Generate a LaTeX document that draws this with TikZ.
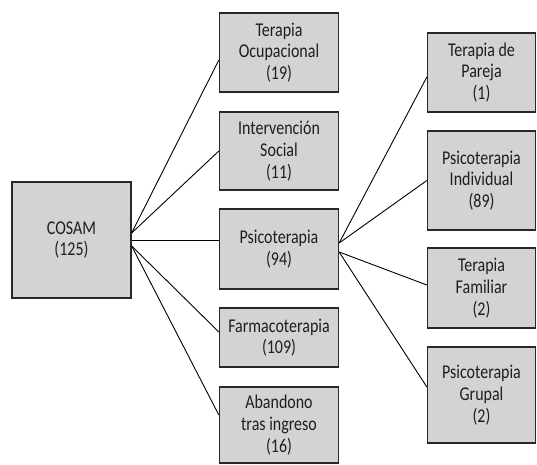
\documentclass[tikz,border=0pt]{standalone}
\usepackage{fontspec}
\setmainfont[FakeStretch=0.82]{Carlito}
\definecolor{boxfill}{RGB}{211,211,213}
\definecolor{boxline}{RGB}{40,40,40}
\definecolor{txt}{RGB}{30,30,30}
\begin{document}
\begin{tikzpicture}[x=1pt,y=-1pt,
  box/.style={draw=boxline,fill=boxfill,line width=1.3pt,inner sep=0pt,align=center,
    text=txt,font=\fontsize{19.5}{21.7}\selectfont,minimum width=#1},
  box/.default=119pt,
  link/.style={draw=black,line width=0.9pt}]
\useasboundingbox (0,0) rectangle (537,464);
\node[box=119pt,minimum height=116pt] (cosam) at (71.5,240) {COSAM\\(125)};
\node[box,minimum height=79pt] (to) at (279,52.5) {Terapia\\Ocupacional\\(19)};
\node[box,minimum height=78pt] (is) at (279,151) {Intervención\\Social\\(11)};
\node[box,minimum height=80pt] (ps) at (279,249) {Psicoterapia\\(94)};
\node[box,minimum height=59pt] (fa) at (279,337.5) {Farmacoterapia\\(109)};
\node[box,minimum height=76pt] (ab) at (279,425) {Abandono\\tras ingreso\\(16)};
\node[box=108pt,minimum height=79pt] (tp) at (481.5,72.5) {Terapia de\\Pareja\\(1)};
\node[box=108pt,minimum height=99pt] (pi) at (481.5,180.5) {Psicoterapia\\Individual\\(89)};
\node[box=108pt,minimum height=80pt] (tf) at (481.5,288) {Terapia\\Familiar\\(2)};
\node[box=108pt,minimum height=96pt] (pg) at (481.5,395) {Psicoterapia\\Grupal\\(2)};
\draw[link] ([yshift=7pt]cosam.east) -- ([yshift=-7.5pt]to.west);
\draw[link] ([yshift=7pt]cosam.east) -- (is.west);
\draw[link] (cosam.east) -- ([yshift=9pt]ps.west);
\draw[link] ([yshift=-6pt]cosam.east) -- ([yshift=5.5pt]fa.west);
\draw[link] ([yshift=-6pt]cosam.east) -- ([yshift=10pt]ab.west);
\draw[link] ([yshift=6pt]ps.east) -- ([yshift=-4.5pt]tp.west);
\draw[link] ([yshift=6pt]ps.east) -- (pi.west);
\draw[link] ([yshift=-3pt]ps.east) -- ([yshift=3pt]tf.west);
\draw[link] ([yshift=-3pt]ps.east) -- ([yshift=8pt]pg.west);
\end{tikzpicture}
\end{document}
